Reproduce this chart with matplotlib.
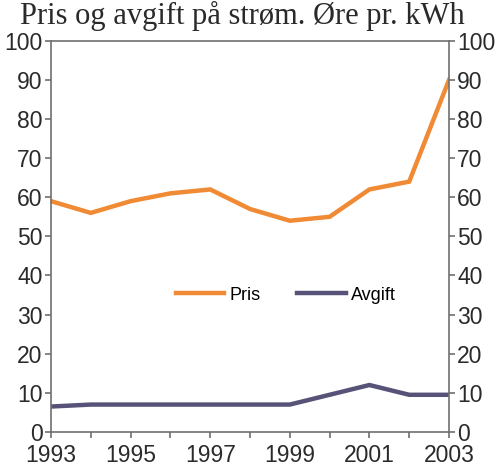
import matplotlib
matplotlib.use("Agg")
import matplotlib.pyplot as plt

years = [1993, 1994, 1995, 1996, 1997, 1998, 1999, 2000, 2001, 2002, 2003]
pris = [59, 56, 59, 61, 62, 57, 54, 55, 62, 64, 90]
avgift = [6.5, 7, 7, 7, 7, 7, 7, 9.5, 12, 9.5, 9.5]

plt.rcParams['font.family'] = ['Liberation Sans', 'DejaVu Sans']

fig = plt.figure(figsize=(5.0, 4.69), dpi=100)
ax = fig.add_axes([0.102, 0.079, 0.796, 0.834])

ax.plot(years, pris, color='#F08A35', lw=3.2, label='Pris', solid_joinstyle='miter')
ax.plot(years, avgift, color='#575378', lw=3.2, label='Avgift', solid_joinstyle='miter')

ax.set_xlim(1993, 2003)
ax.set_ylim(0, 100)
ax.set_xticks(years)
ax.set_xticklabels([str(y) if (y - 1993) % 2 == 0 else '' for y in years])
ax.set_yticks(range(0, 101, 10))

for s in ax.spines.values():
    s.set_color('#707070')
    s.set_linewidth(1.2)

ax.tick_params(axis='both', direction='out', length=4, width=1.2, color='#707070',
               labelsize=16.5, labelcolor='#2a2a2a')
ax.tick_params(axis='y', right=True, labelright=True, pad=2)
ax.tick_params(axis='x', pad=5)

ax.legend(loc='center', bbox_to_anchor=(0.59, 0.35), ncol=2, frameon=False,
          fontsize=13, handlelength=2.7, columnspacing=2.0, handletextpad=0.3)

fig.text(0.04, 0.998, 'Pris og avgift på strøm. Øre pr. kWh', family='Liberation Serif',
         fontsize=22, color='#2a2a2a', va='top', ha='left')

fig.savefig('out.png', dpi=100)
